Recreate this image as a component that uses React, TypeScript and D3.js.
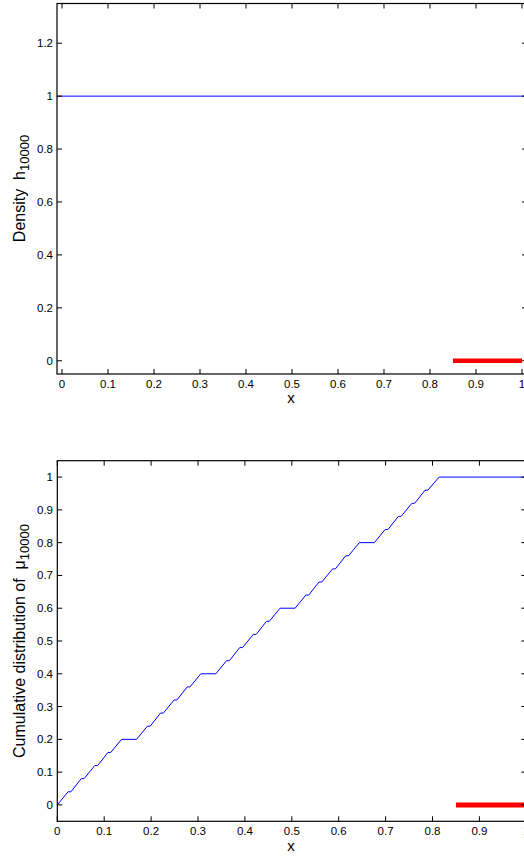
import React from "react";
import * as d3 from "d3";

// ---- data ----
const topXTicks = [0, 0.1, 0.2, 0.3, 0.4, 0.5, 0.6, 0.7, 0.8, 0.9, 1];
const topYTicks = [0, 0.2, 0.4, 0.6, 0.8, 1, 1.2];
const botXTicks = [0, 0.1, 0.2, 0.3, 0.4, 0.5, 0.6, 0.7, 0.8, 0.9, 1];
const botYTicks = [0, 0.1, 0.2, 0.3, 0.4, 0.5, 0.6, 0.7, 0.8, 0.9, 1];

const densityX = [-0.011, 1.011];
const densityY = [1, 1];

const intervalX = [0.85, 1];
const intervalY = [0, 0];

const cdfX = [
  0, 0.023, 0.029, 0.051, 0.057, 0.08, 0.086, 0.108, 0.114, 0.137,
  0.169, 0.192, 0.198, 0.22, 0.226, 0.249, 0.255, 0.277, 0.283, 0.306,
  0.338, 0.361, 0.367, 0.389, 0.395, 0.418, 0.424, 0.446, 0.452, 0.475,
  0.507, 0.53, 0.536, 0.558, 0.564, 0.587, 0.593, 0.615, 0.621, 0.644,
  0.676, 0.699, 0.705, 0.727, 0.733, 0.756, 0.762, 0.784, 0.79, 0.814,
  1.0,
];
const cdfY = [
  0, 0.04, 0.04, 0.08, 0.08, 0.12, 0.12, 0.16, 0.16, 0.2,
  0.2, 0.24, 0.24, 0.28, 0.28, 0.32, 0.32, 0.36, 0.36, 0.4,
  0.4, 0.44, 0.44, 0.48, 0.48, 0.52, 0.52, 0.56, 0.56, 0.6,
  0.6, 0.64, 0.64, 0.68, 0.68, 0.72, 0.72, 0.76, 0.76, 0.8,
  0.8, 0.84, 0.84, 0.88, 0.88, 0.92, 0.92, 0.96, 0.96, 1.0,
  1.0,
];

const FONT = "'Liberation Sans', Arial, Helvetica, sans-serif";

type Sc = d3.ScaleLinear<number, number>;

function Frame({ x, y, xt, yt }: { x: Sc; y: Sc; xt: number[]; yt: number[] }) {
  const [x0, x1] = x.range();
  const [y0, y1] = y.range(); // y0 bottom, y1 top
  const tl = 5;
  return (
    <g>
      {xt.map((t) => (
        <g key={"x" + t}>
          <line x1={x(t)} x2={x(t)} y1={y0} y2={y0 - tl} stroke="#000" strokeWidth={1} />
          <line x1={x(t)} x2={x(t)} y1={y1} y2={y1 + tl} stroke="#000" strokeWidth={1} />
          <text x={x(t)} y={y0 + 13.5} textAnchor="middle" fontSize={11.5} fontFamily={FONT}>
            {String(t)}
          </text>
        </g>
      ))}
      {yt.map((t) => (
        <g key={"y" + t}>
          <line x1={x0} x2={x0 + tl} y1={y(t)} y2={y(t)} stroke="#000" strokeWidth={1} />
          <line x1={x1} x2={x1 - tl} y1={y(t)} y2={y(t)} stroke="#000" strokeWidth={1} />
          <text x={53} y={y(t) + 4} textAnchor="end" fontSize={11.5} fontFamily={FONT}>
            {String(t)}
          </text>
        </g>
      ))}
      <rect x={x0} y={y1} width={x1 - x0} height={y0 - y1} fill="none" stroke="#000" strokeWidth={1.2} />
    </g>
  );
}

export default function App() {
  const xT = d3.scaleLinear().domain([-0.0109, 1.0109]).range([57, 527]);
  const yT = d3.scaleLinear().domain([-0.05, 1.35]).range([374, 3.5]);
  const xB = d3.scaleLinear().domain([0, 1]).range([57.3, 526.3]);
  const yB = d3.scaleLinear().domain([-0.05, 1.05]).range([821.3, 460.7]);

  const lineT = d3.line<number>().x((_, i) => xT(densityX[i])).y((d) => yT(d));
  const redT = d3.line<number>().x((_, i) => xT(intervalX[i])).y((d) => yT(d));
  const lineB = d3.line<number>().x((_, i) => xB(cdfX[i])).y((d) => yB(d));
  const redB = d3.line<number>().x((_, i) => xB(intervalX[i])).y((d) => yB(d));

  return (
    <svg width={524} height={857} style={{ position: "absolute", left: 0, top: 0, background: "#fff" }}>
      <rect x={0} y={0} width={524} height={857} fill="#fff" />
      {/* top panel */}
      <path d={lineT(densityY) || ""} fill="none" stroke="#0000ff" strokeWidth={1} />
      <path d={redT(intervalY) || ""} fill="none" stroke="#ff0000" strokeWidth={4.7} />
      <Frame x={xT} y={yT} xt={topXTicks} yt={topYTicks} />
      <text x={291} y={402.5} textAnchor="middle" fontSize={15} fontFamily={FONT}>x</text>
      <text transform="translate(24.5,188.5) rotate(-90)" textAnchor="middle" fontSize={16} fontFamily={FONT} style={{ whiteSpace: "pre" }}>
        {"Density  h"}
        <tspan dy={4} fontSize={13}>10000</tspan>
      </text>

      {/* bottom panel */}
      <path d={lineB(cdfY) || ""} fill="none" stroke="#0000ff" strokeWidth={1} />
      <path d={redB(intervalY) || ""} fill="none" stroke="#ff0000" strokeWidth={5} />
      <Frame x={xB} y={yB} xt={botXTicks} yt={botYTicks} />
      <text x={291} y={851} textAnchor="middle" fontSize={15} fontFamily={FONT}>x</text>
      <text transform="translate(24.5,641) rotate(-90)" textAnchor="middle" fontSize={16} fontFamily={FONT} style={{ whiteSpace: "pre" }}>
        {"Cumulative distribution of  \u03bc"}
        <tspan dy={4} fontSize={13}>10000</tspan>
      </text>
    </svg>
  );
}
